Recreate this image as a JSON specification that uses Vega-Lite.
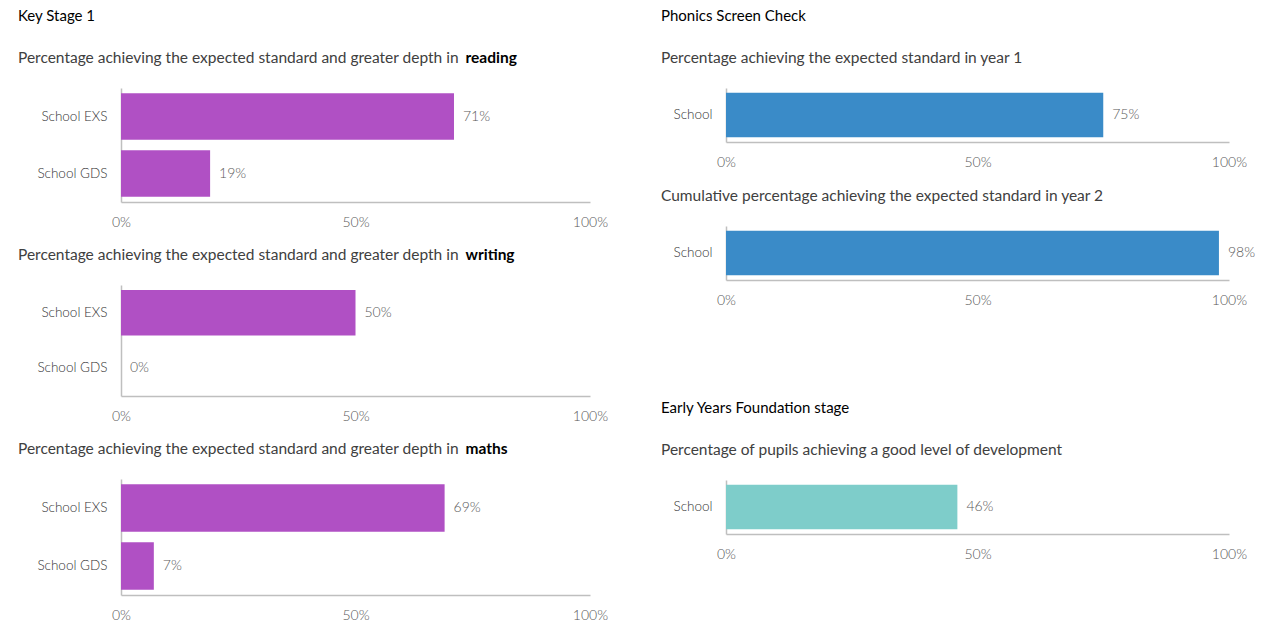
{
  "$schema": "https://vega.github.io/schema/vega-lite/v6.json",
  "background": "white",
  "padding": {"left": 18, "top": 8, "right": 5, "bottom": 5},
  "datasets": {
    "ks1": [
      {"subject": "reading", "group": "School EXS", "value": 0.71},
      {"subject": "reading", "group": "School GDS", "value": 0.19},
      {"subject": "writing", "group": "School EXS", "value": 0.50},
      {"subject": "writing", "group": "School GDS", "value": 0.0},
      {"subject": "maths", "group": "School EXS", "value": 0.69},
      {"subject": "maths", "group": "School GDS", "value": 0.07}
    ],
    "other": [
      {"measure": "phonics_y1", "group": "School", "value": 0.75},
      {"measure": "phonics_y2", "group": "School", "value": 0.98},
      {"measure": "eyfs", "group": "School", "value": 0.46}
    ]
  },
  "config": {
    "font": "Lato",
    "view": {"stroke": null},
    "axis": {"grid": false, "ticks": false, "domainColor": "#bfbfbf", "domainWidth": 1.5, "labelFont": "Lato", "labelFontSize": 14, "labelFontWeight": 300},
    "axisX": {"labelColor": "#595959", "labelPadding": 13, "labelFlush": false},
    "axisY": {"labelColor": "#333333", "labelPadding": 14, "labelFontSize": 13.5},
    "title": {"font": "Lato", "fontSize": 15, "fontWeight": "normal", "anchor": "start", "frame": "group", "color": "#404040", "subtitleFont": "Lato", "subtitleFontSize": 15.5, "subtitleColor": "#404040", "offset": 22},
    "bar": {"stroke": null},
    "text": {"align": "left", "baseline": "middle", "dx": 9, "fontSize": 14, "fontWeight": 300, "color": "#595959"}
  },
  "spacing": 53,
  "hconcat": [
    {
      "spacing": 18,
      "vconcat": [
        {
          "title": {"text": "Key Stage 1", "color": "#000000", "subtitle": "Percentage achieving the expected standard and greater depth in", "subtitlePadding": 27, "dx": -103, "offset": -16},
          "width": 469, "height": 114,
          "data": {"name": "ks1"},
          "transform": [{"filter": "datum.subject === 'reading'"}],
          "encoding": {
            "y": {"field": "group", "type": "nominal", "sort": null, "scale": {"paddingInner": 0.18, "paddingOuter": 0.09},
              "axis": {"title": "reading", "titleFont": "Lato", "titleFontSize": 15.5, "titleFontWeight": "bold", "titleColor": "#000000", "titleAngle": 0, "titleAlign": "left", "titleBaseline": "alphabetic", "titleX": 344, "titleY": -26}},
            "x": {"field": "value", "type": "quantitative", "scale": {"domain": [0, 1]}, "axis": {"title": null, "values": [0, 0.5, 1], "format": ".0%"}}
          },
          "layer": [
            {"mark": {"type": "bar", "color": "#b050c4"}},
            {"mark": {"type": "text"}, "encoding": {"text": {"field": "value", "type": "quantitative", "format": ".0%"}}}
          ]
        },
        {
          "title": {"text": "Percentage achieving the expected standard and greater depth in", "fontSize": 15.5, "dx": -103, "offset": -16},
          "width": 469, "height": 111,
          "data": {"name": "ks1"},
          "transform": [{"filter": "datum.subject === 'writing'"}],
          "encoding": {
            "y": {"field": "group", "type": "nominal", "sort": null, "scale": {"paddingInner": 0.18, "paddingOuter": 0.09},
              "axis": {"title": "writing", "titleFont": "Lato", "titleFontSize": 15.5, "titleFontWeight": "bold", "titleColor": "#000000", "titleAngle": 0, "titleAlign": "left", "titleBaseline": "alphabetic", "titleX": 344, "titleY": -26}},
            "x": {"field": "value", "type": "quantitative", "scale": {"domain": [0, 1]}, "axis": {"title": null, "values": [0, 0.5, 1], "format": ".0%"}}
          },
          "layer": [
            {"mark": {"type": "bar", "color": "#b050c4"}},
            {"mark": {"type": "text"}, "encoding": {"text": {"field": "value", "type": "quantitative", "format": ".0%"}}}
          ]
        },
        {
          "title": {"text": "Percentage achieving the expected standard and greater depth in", "fontSize": 15.5, "dx": -103, "offset": -16},
          "width": 469, "height": 116,
          "data": {"name": "ks1"},
          "transform": [{"filter": "datum.subject === 'maths'"}],
          "encoding": {
            "y": {"field": "group", "type": "nominal", "sort": null, "scale": {"paddingInner": 0.18, "paddingOuter": 0.09},
              "axis": {"title": "maths", "titleFont": "Lato", "titleFontSize": 15.5, "titleFontWeight": "bold", "titleColor": "#000000", "titleAngle": 0, "titleAlign": "left", "titleBaseline": "alphabetic", "titleX": 344, "titleY": -26}},
            "x": {"field": "value", "type": "quantitative", "scale": {"domain": [0, 1]}, "axis": {"title": null, "values": [0, 0.5, 1], "format": ".0%"}}
          },
          "layer": [
            {"mark": {"type": "bar", "color": "#b050c4"}},
            {"mark": {"type": "text"}, "encoding": {"text": {"field": "value", "type": "quantitative", "format": ".0%"}}}
          ]
        }
      ]
    },
    {
      "spacing": 93,
      "vconcat": [
        {
          "spacing": 19,
          "vconcat": [
            {
              "title": {"text": "Phonics Screen Check", "color": "#000000", "subtitle": "Percentage achieving the expected standard in year 1", "subtitlePadding": 27, "dx": -65},
              "width": 503, "height": 54,
              "data": {"name": "other"},
              "transform": [{"filter": "datum.measure === 'phonics_y1'"}],
              "encoding": {
                "y": {"field": "group", "type": "nominal", "sort": null, "scale": {"paddingInner": 0.18, "paddingOuter": 0.09}, "axis": {"title": null}},
                "x": {"field": "value", "type": "quantitative", "scale": {"domain": [0, 1]}, "axis": {"title": null, "values": [0, 0.5, 1], "format": ".0%"}}
              },
              "layer": [
                {"mark": {"type": "bar", "color": "#3a8bc8"}},
                {"mark": {"type": "text"}, "encoding": {"text": {"field": "value", "type": "quantitative", "format": ".0%"}}}
              ]
            },
            {
              "title": {"text": "Cumulative percentage achieving the expected standard in year 2", "fontSize": 15.5, "dx": -65},
              "width": 503, "height": 54,
              "data": {"name": "other"},
              "transform": [{"filter": "datum.measure === 'phonics_y2'"}],
              "encoding": {
                "y": {"field": "group", "type": "nominal", "sort": null, "scale": {"paddingInner": 0.18, "paddingOuter": 0.09}, "axis": {"title": null}},
                "x": {"field": "value", "type": "quantitative", "scale": {"domain": [0, 1]}, "axis": {"title": null, "values": [0, 0.5, 1], "format": ".0%"}}
              },
              "layer": [
                {"mark": {"type": "bar", "color": "#3a8bc8"}},
                {"mark": {"type": "text"}, "encoding": {"text": {"field": "value", "type": "quantitative", "format": ".0%"}}}
              ]
            }
          ]
        },
        {
          "title": {"text": "Early Years Foundation stage", "color": "#000000", "subtitle": "Percentage of pupils achieving a good level of development", "subtitlePadding": 27, "dx": -65},
          "width": 503, "height": 54,
          "data": {"name": "other"},
          "transform": [{"filter": "datum.measure === 'eyfs'"}],
          "encoding": {
            "y": {"field": "group", "type": "nominal", "sort": null, "scale": {"paddingInner": 0.18, "paddingOuter": 0.09}, "axis": {"title": null}},
            "x": {"field": "value", "type": "quantitative", "scale": {"domain": [0, 1]}, "axis": {"title": null, "values": [0, 0.5, 1], "format": ".0%"}}
          },
          "layer": [
            {"mark": {"type": "bar", "color": "#7ecdca"}},
            {"mark": {"type": "text"}, "encoding": {"text": {"field": "value", "type": "quantitative", "format": ".0%"}}}
          ]
        }
      ]
    }
  ]
}
